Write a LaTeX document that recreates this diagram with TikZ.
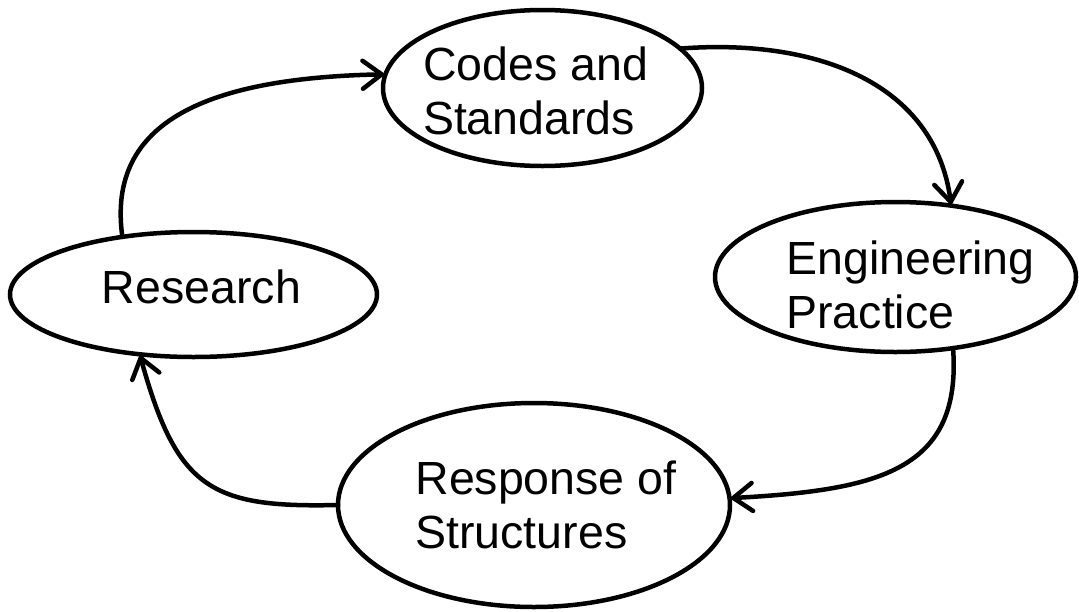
\documentclass[tikz,border=0pt]{standalone}
\usepackage{fontspec}
\setmainfont{Liberation Sans}
\usetikzlibrary{arrows.meta, shapes.geometric}

\begin{document}
\begin{tikzpicture}[x=1pt, y=-1pt,
  bubble/.style={draw=black, line width=4.5pt, ellipse, inner sep=0pt, outer sep=0pt},
  caption/.style={inner sep=0pt, align=left, font=\fontsize{46.5}{54}\selectfont},
  flow/.style={line width=4.5pt, line cap=round,
    -{Straight Barb[length=19pt, width=28pt, line cap=round]}}]

  % canvas
  \useasboundingbox (0,0) rectangle (1079,611);

  % the four stages of the cycle
  \node[bubble, minimum width=319pt, minimum height=156pt] (codes) at (542.5,88) {};
  \node[bubble, minimum width=361pt, minimum height=150pt] (eng)   at (895.5,277) {};
  \node[bubble, minimum width=367pt, minimum height=125pt] (res)   at (193.5,294.5) {};
  \node[bubble, minimum width=392pt, minimum height=204pt] (resp)  at (534,505) {};

  % their labels
  \node[caption] (codes-t) at (535.5,91)  {Codes and\\Standards};
  \node[caption] (eng-t)   at (910.5,285) {Engineering\\Practice};
  \node[caption] (res-t)   at (201.5,287) {Research};
  \node[caption] (resp-t)  at (546,505)   {Response of\\Structures};

  % arrows of the cycle
  \draw[flow] (res.141)  .. controls (106,120) and (210,78)  .. (codes.175);
  \draw[flow] (codes.16) .. controls (820,38)  and (935,85)  .. (eng.52);
  \draw[flow] (eng.-51)  .. controls (962,470) and (880,490) .. (resp.2);
  \draw[flow] (resp.180) .. controls (211,508) and (177,489) .. (res.228);
\end{tikzpicture}
\end{document}
